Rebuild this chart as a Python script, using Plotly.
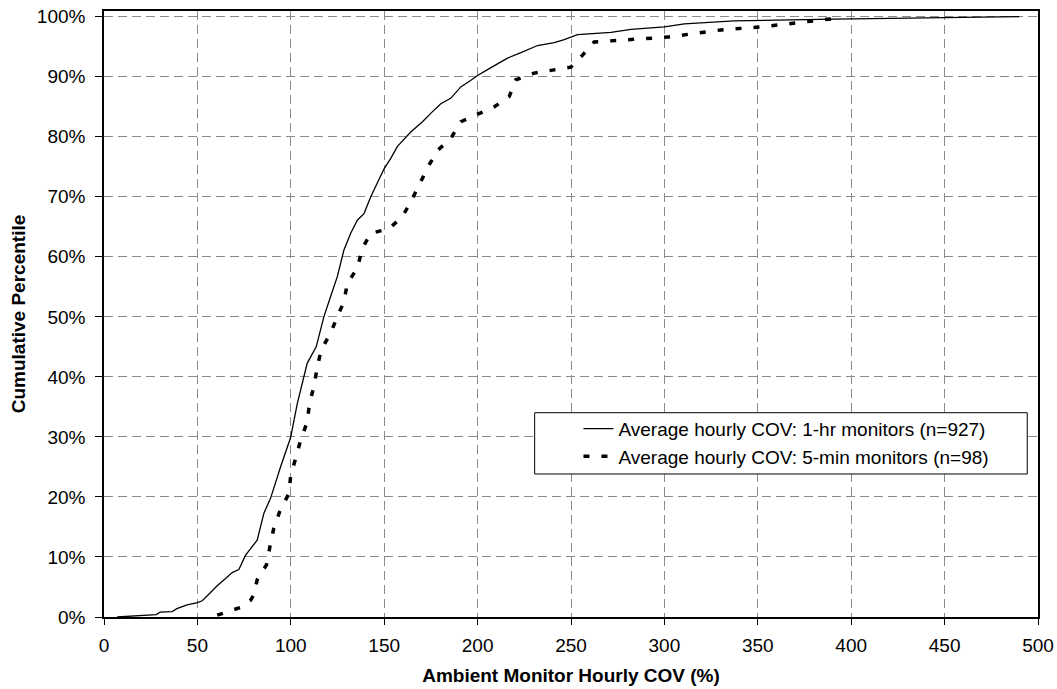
import plotly.graph_objects as go

# 1-hr monitors (n=927): Ambient monitor hourly COV (%) vs cumulative percentile (%)
cov_1hr = [7, 20, 28, 30, 36.5, 39, 44.5, 50, 52.6, 56.1, 60.6, 65.1, 68.6, 72.2, 75.8, 78.5,
           82, 85.6, 89.2, 94.5, 99.9, 103.5, 107, 108.8, 113.6, 117.7, 121.3, 124.9, 128.4,
           132, 135.6, 139.2, 142.8, 146.4, 150, 153.5, 157.1, 164.2, 170.5, 174.9, 180.3,
           185.6, 191, 196.4, 200, 206, 212.7, 216, 223.2, 232.1, 241, 246.4, 253.5, 271.4,
           282.1, 300, 310.7, 337.3, 391, 490]
pct_1hr = [0, 0.2, 0.4, 0.8, 0.9, 1.4, 2.0, 2.4, 2.7, 3.8, 5.2, 6.4, 7.4, 7.9, 10.3, 11.4,
           12.8, 17.3, 19.8, 25, 29.9, 35.6, 40, 42.3, 45, 50, 53.4, 56.7, 61.1,
           63.9, 66.1, 67.2, 70, 72.5, 74.7, 76.4, 78.4, 80.8, 82.5, 83.9, 85.5,
           86.4, 88.3, 89.4, 90.2, 91.3, 92.5, 93.1, 94, 95.2, 95.7, 96.2, 97, 97.4,
           97.9, 98.3, 98.8, 99.3, 99.6, 100]

# 5-min monitors (n=98)
cov_5min = [60.6, 73.1, 78.5, 80.2, 82, 87, 88.8, 90.9, 94, 99, 99.9, 102.6, 105.3, 108.8,
            110, 112.4, 114.2, 116.3, 121.3, 124.9, 128.4, 130.3, 135.6, 138.3, 142.8,
            152.6, 159.8, 165.1, 169.6, 174, 178.5, 185.6, 191, 199.9, 209, 216.9, 220.5,
            230.3, 249.9, 256.2, 262.4, 301.8, 330.3, 351.8, 391]
pct_5min = [0.3, 1.6, 2.8, 3.7, 6.2, 8.7, 11.7, 14.8, 17.5, 20.6, 23.4, 26.4, 29.5, 32.5,
            35.6, 38.4, 41.7, 44.5, 47.3, 50, 52.5, 55.6, 58.1, 61.4, 63.9,
            64.7, 66.7, 69.7, 72.5, 75.3, 77.7, 79.7, 82.5, 83.7, 85, 86.7, 89.5,
            90.6, 91.6, 93.6, 95.8, 96.6, 97.8, 98.3, 99.7]

name_1hr = "Average hourly COV: 1-hr monitors (n=927)"
name_5min = "Average hourly COV: 5-min monitors (n=98)"
x_title = "Ambient Monitor Hourly COV (%)"
y_title = "Cumulative Percentile"

FONT = "Arial, 'Liberation Sans', sans-serif"

fig = go.Figure()
fig.add_trace(go.Scatter(x=cov_1hr, y=[v / 100 for v in pct_1hr], mode="lines",
                         name=name_1hr, legendgroup="a",
                         line=dict(color="black", width=1.3)))
fig.add_trace(go.Scatter(x=cov_5min, y=[v / 100 for v in pct_5min], mode="lines",
                         name=name_5min, legendgroup="b",
                         line=dict(color="black", width=3.5, dash="6px,12px")))

grid = dict(showgrid=True, gridcolor="#8a8a8a", gridwidth=1, griddash="9px,5px")

fig.update_xaxes(range=[0, 500], dtick=50, tick0=0, **grid, automargin=False,
                 showline=True, linecolor="black", linewidth=1.5, mirror=True,
                 ticks="outside", ticklen=6, tickcolor="black", ticklabelstandoff=4,
                 tickfont=dict(family=FONT, size=19, color="black"),
                 zeroline=False,
                 title=dict(text=x_title, standoff=14,
                            font=dict(family=FONT, size=19, color="black", weight="bold")))
fig.update_yaxes(range=[0, 1.0095], dtick=0.1, tick0=0, tickformat=".0%", **grid,
                 automargin=False,
                 showline=True, linecolor="black", linewidth=1.5, mirror=True,
                 ticks="outside", ticklen=7, tickcolor="black", ticklabelstandoff=6,
                 tickfont=dict(family=FONT, size=19, color="black"),
                 zeroline=False,
                 title=dict(text=y_title, standoff=6,
                            font=dict(family=FONT, size=19, color="black", weight="bold")))

# legend frame
fig.add_shape(type="rect", xref="paper", yref="paper",
              x0=0.4611, x1=0.9885, y0=0.2360, y1=0.3371,
              line=dict(color="black", width=1), fillcolor="white", layer="above")

fig.update_layout(
    width=1057, height=689,
    margin=dict(l=104, r=19, t=11, b=72),
    paper_bgcolor="white", plot_bgcolor="white",
    font=dict(family=FONT, color="black"),
    showlegend=True,
    legend=dict(x=0.508, y=0.342, xanchor="left", yanchor="top",
                bgcolor="rgba(0,0,0,0)", borderwidth=0,
                font=dict(family=FONT, size=19, color="black"),
                tracegroupgap=0),
)

fig.write_html(
    "out.html",
    config={"displayModeBar": False},
    post_script="document.body.style.margin='0';document.body.style.overflow='hidden';",
)
